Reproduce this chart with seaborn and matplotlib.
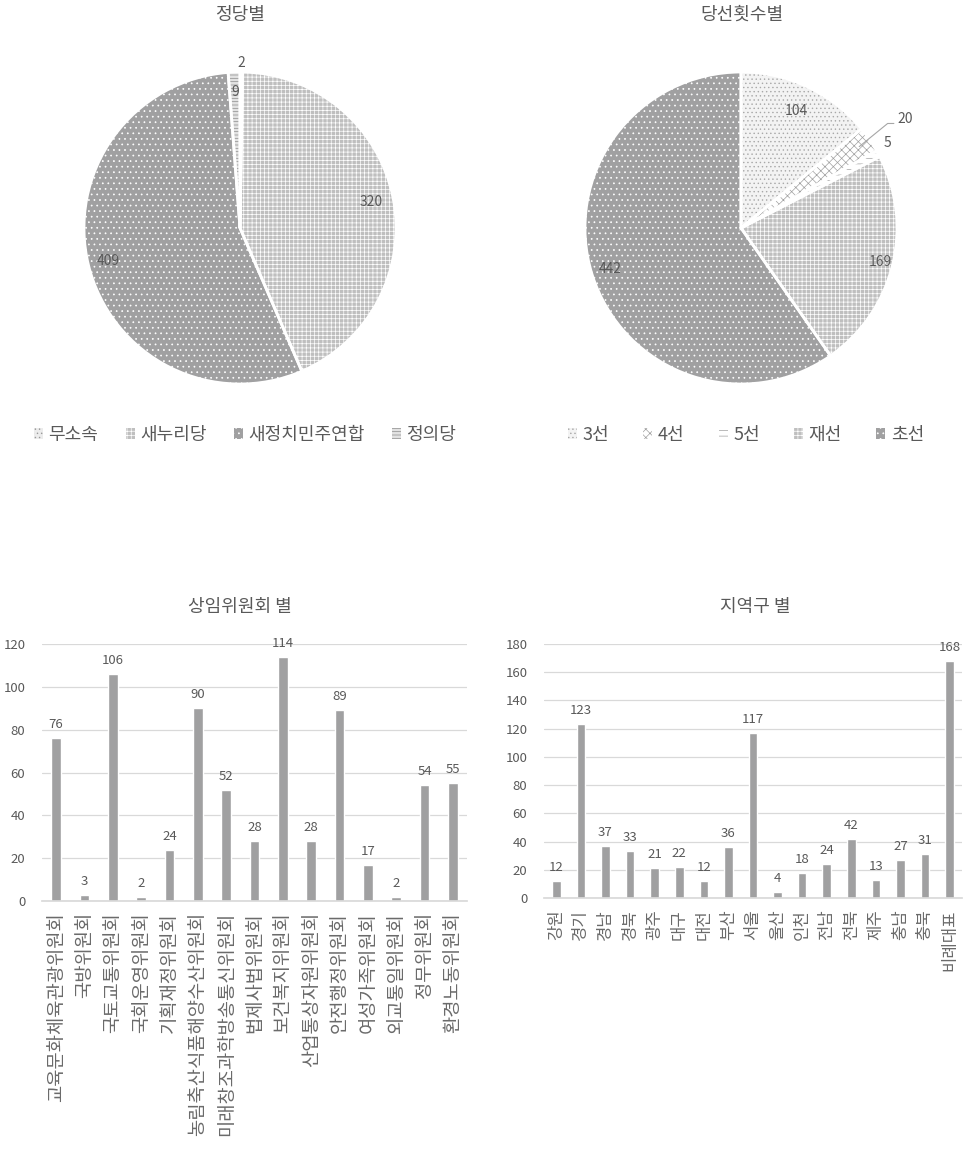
import matplotlib
matplotlib.use("Agg")
import matplotlib.pyplot as plt
import seaborn as sns
import numpy as np
import pandas as pd

# data
party_labels = ["무소속", "새누리당", "새정치민주연합", "정의당"]
party_values = [2, 320, 409, 9]

term_labels = ["3선", "4선", "5선", "재선", "초선"]
term_values = [104, 20, 5, 169, 442]

committee_labels = ["교육문화체육관광위원회", "국방위원회", "국토교통위원회", "국회운영위원회",
                    "기획재정위원회", "농림축산식품해양수산위원회", "미래창조과학방송통신위원회",
                    "법제사법위원회", "보건복지위원회", "산업통상자원위원회", "안전행정위원회",
                    "여성가족위원회", "외교통일위원회", "정무위원회", "환경노동위원회"]
committee_values = [76, 3, 106, 2, 24, 90, 52, 28, 114, 28, 89, 17, 2, 54, 55]

region_labels = ["강원", "경기", "경남", "경북", "광주", "대구", "대전", "부산", "서울",
                 "울산", "인천", "전남", "전북", "제주", "충남", "충북", "비례대표"]
region_values = [12, 123, 37, 33, 21, 22, 12, 36, 117, 4, 18, 24, 42, 13, 27, 31, 168]

sns.set_theme(style="white")
plt.rcParams['font.family'] = ['Noto Sans CJK KR', 'DejaVu Sans']
plt.rcParams['hatch.linewidth'] = 0.5

W, H = 968, 1154
TXT = "#595959"
fig = plt.figure(figsize=(W / 100, H / 100), dpi=100)


def px_axes(left, top, width, height):
    return fig.add_axes([left / W, 1 - (top + height) / H, width / W, height / H])


# fill styles: (facecolor, hatch, hatch colour)
party_styles = [("#ececec", "....", "#9a9a9a"),
                ("#bfbfbf", "++++", "white"),
                ("#a0a0a1", "...", "white"),
                ("#e2e2e2", "-----", "#8c8c8c")]
term_styles = [("#f3f3f3", "....", "#a8a8a8"),
               ("white", "xxxx", "#a0a0a0"),
               ("white", "---", "#a0a0a0"),
               ("#bfbfbf", "++++", "white"),
               ("#a0a0a1", "...", "white")]


def draw_pie(ax, values, styles):
    wedges, _ = ax.pie(values, startangle=90, counterclock=False, radius=1,
                       wedgeprops=dict(linewidth=0))
    for w, (fc, hatch, hc) in zip(wedges, styles):
        w.set_facecolor(fc)
        w.set_hatch(hatch)
        w.set_edgecolor(hc)
    # white separators drawn on top
    ax.pie(values, startangle=90, counterclock=False, radius=1,
           wedgeprops=dict(facecolor="none", edgecolor="white", linewidth=2))
    lim = 160 / 156
    ax.set_xlim(-lim, lim)
    ax.set_ylim(-lim, lim)
    ax.set_aspect("equal")
    ax.axis("off")
    return wedges


def mid(w):
    a = np.deg2rad((w.theta1 + w.theta2) / 2)
    return np.cos(a), np.sin(a)


NUM = 10

# pie 1
ax1 = px_axes(80, 68, 320, 320)
w1 = draw_pie(ax1, party_values, party_styles)
for i, r in [(1, 0.86), (2, 0.87), (3, 0.87)]:
    c, s = mid(w1[i])
    ax1.text(r * c, r * s, str(party_values[i]), ha="center", va="center",
             fontsize=NUM, color=TXT)
c, s = mid(w1[0])
ax1.text(1.06 * c, 1.06 * s, str(party_values[0]), ha="center", va="center", fontsize=NUM, color=TXT)
fig.text(240 / W, 1 - 15 / H, "정당별", ha="center", va="center", fontsize=13, color=TXT)

# pie 2
ax2 = px_axes(581, 68, 320, 320)
w2 = draw_pie(ax2, term_values, term_styles)
for i, r in [(0, 0.83), (3, 0.92), (4, 0.88)]:
    c, s = mid(w2[i])
    ax2.text(r * c, r * s, str(term_values[i]), ha="center", va="center",
             fontsize=NUM, color=TXT)
c, s = mid(w2[1])
ax2.plot([0.92 * c, 0.94, 0.98], [0.92 * s, 0.67, 0.67], color="#a6a6a6", lw=0.8)
ax2.text(1.0, 0.70, str(term_values[1]), ha="left", va="center", fontsize=NUM, color=TXT)
c, s = mid(w2[2])
ax2.text(1.1 * c - 0.03, 1.1 * s + 0.02, str(term_values[2]), ha="center", va="center", fontsize=NUM, color=TXT)
fig.text(742 / W, 1 - 15 / H, "당선횟수별", ha="center", va="center", fontsize=13, color=TXT)

# legends
leg_kw = dict(loc="center", ncol=5, frameon=False, fontsize=13, labelcolor=TXT,
              handlelength=0.5, handleheight=0.5, handletextpad=0.3)
fig.legend(w1, party_labels, bbox_to_anchor=(245 / W, 1 - 435 / H), columnspacing=1.5, **leg_kw)
fig.legend(w2, term_labels, bbox_to_anchor=(746 / W, 1 - 435 / H), columnspacing=1.9, **leg_kw)


# bar charts
def draw_bar(ax, labels, values, ymax, step, title, title_x, xsize):
    df = pd.DataFrame({"label": labels, "value": values})
    sns.barplot(data=df, x="label", y="value", color="#a0a0a1", saturation=1,
                width=0.35, ax=ax)
    ax.bar_label(ax.containers[0], padding=5, fontsize=9.5, color=TXT)
    ax.set_ylim(0, ymax)
    ax.set_yticks(np.arange(0, ymax + 1, step))
    ax.set_xlim(-0.5, len(labels) - 0.5)
    ax.yaxis.grid(True, color="#d9d9d9", lw=0.9)
    ax.set_axisbelow(True)
    for sp in ["top", "right", "left"]:
        ax.spines[sp].set_visible(False)
    ax.spines["bottom"].set_color("#d9d9d9")
    ax.tick_params(axis="y", labelsize=9.5, labelcolor=TXT, length=0, pad=12)
    ax.tick_params(axis="x", labelsize=xsize, labelcolor="#6a6a6a", length=0, pad=8)
    plt.setp(ax.get_xticklabels(), rotation=90, va="top", ha="center", fontweight="light")
    ax.set_xlabel("")
    ax.set_ylabel("")
    fig.text(title_x / W, 1 - 607 / H, title, ha="center", va="center", fontsize=13, color=TXT)


ax3 = px_axes(42, 644, 425, 257)
draw_bar(ax3, committee_labels, committee_values, 120, 20, "상임위원회 별", 240, 13.5)

ax4 = px_axes(544, 644, 418, 254)
draw_bar(ax4, region_labels, region_values, 180, 20, "지역구 별", 755, 12)

fig.savefig("out.png", dpi=100)
